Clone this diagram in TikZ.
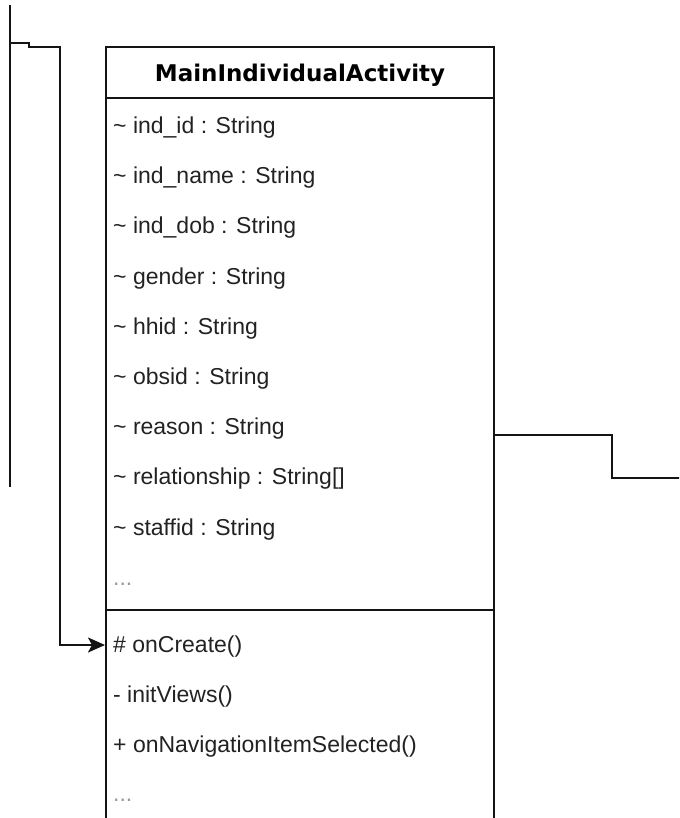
\documentclass[tikz,border=0pt]{standalone}
\usepackage{fontspec}
\setmainfont{Liberation Sans}
\newfontfamily\headfont{DejaVu Sans}
\usetikzlibrary{arrows.meta}
\definecolor{ink}{RGB}{34,34,34}
\definecolor{rule}{RGB}{20,20,20}
\tikzset{
  member/.style={anchor=base west, inner sep=0pt, text=ink, font=\fontsize{23}{23}\selectfont},
  dots/.style={member, text=gray!80},
  title/.style={anchor=base, inner sep=0pt, text=black, font=\headfont\bfseries\fontsize{23}{23}\selectfont},
  frame/.style={draw=rule, line width=2.3pt},
  wire/.style={draw=rule, line width=2.3pt},
  arrow/.style={wire, -{Stealth[length=17pt, width=15pt, inset=4pt]}}
}
\begin{document}
\begin{tikzpicture}[x=1pt, y=-1pt]
\useasboundingbox (0,0) rectangle (679,818);
\clip (0,0) rectangle (679,818);

% class box: outline, header rule and compartment rule
\coordinate (boxNW) at (106,47);
\coordinate (boxSE) at (494,840);
\draw[frame] (boxNW) rectangle (boxSE);
\draw[frame] (106,98) -- (494,98);
\draw[frame] (106,610) -- (494,610);

\node[title] (cls) at (300,81.5) {MainIndividualActivity};

% attributes
\node[member] (a1) at (113,133.5) {\textasciitilde\ ind\_id : String};
\node[member] (a2) at (113,183.7) {\textasciitilde\ ind\_name : String};
\node[member] (a3) at (113,233.9) {\textasciitilde\ ind\_dob : String};
\node[member] (a4) at (113,284.1) {\textasciitilde\ gender : String};
\node[member] (a5) at (113,334.3) {\textasciitilde\ hhid : String};
\node[member] (a6) at (113,384.5) {\textasciitilde\ obsid : String};
\node[member] (a7) at (113,434.7) {\textasciitilde\ reason : String};
\node[member] (a8) at (113,484.9) {\textasciitilde\ relationship : String[]};
\node[member] (a9) at (113,535.1) {\textasciitilde\ staffid : String};
\node[dots]   (a10) at (113,585) {...};

% operations
\node[member] (m1) at (113,652) {\# onCreate()};
\node[member] (m2) at (113,702.2) {- initViews()};
\node[member] (m3) at (113,752.4) {+ onNavigationItemSelected()};
\node[dots]   (m4) at (113,801.5) {...};

% incoming connector on the left, ending at onCreate()
\coordinate (inA) at (10,43);
\coordinate (inB) at (29,43);
\coordinate (inC) at (29,47);
\coordinate (inD) at (60,47);
\coordinate (inE) at (60,645);
\coordinate (inTip) at (105,645);
\draw[arrow] (inA) -- (inB) -- (inC) -- (inD) -- (inE) -- (inTip);

% left vertical line
\coordinate (leftTop) at (10,5);
\coordinate (leftBot) at (10,487);
\draw[wire] (leftTop) -- (leftBot);

% outgoing connector on the right
\coordinate (outA) at (494,435);
\coordinate (outB) at (612,435);
\coordinate (outC) at (612,478);
\coordinate (outD) at (685,478);
\draw[wire] (outA) -- (outB) -- (outC) -- (outD);
\end{tikzpicture}
\end{document}
